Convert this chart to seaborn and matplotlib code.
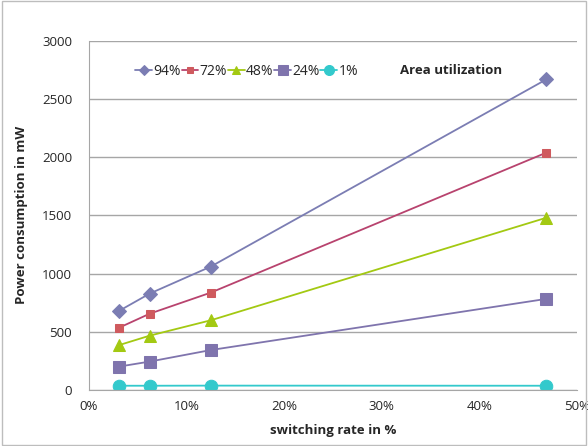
import numpy as np
import pandas as pd
import matplotlib
matplotlib.use("Agg")
import matplotlib.pyplot as plt
import seaborn as sns

# switching rate in % and power in mW per area utilization
rates = [3.125, 6.25, 12.5, 46.875]
labels = ["94%", "72%", "48%", "24%", "1%"]
p94 = [680, 828, 1060, 2670]
p72 = [535, 655, 836, 2040]
p48 = [385, 466, 598, 1480]
p24 = [200, 243, 342, 782]
p01 = [35, 35, 36, 35]

df = pd.DataFrame({
    "rate": rates * 5,
    "power": p94 + p72 + p48 + p24 + p01,
    "util": [l for l in labels for _ in rates],
})

line_cols = ["#7b7db3", "#b8436e", "#a3c912", "#7f74ad", "#33c9cc"]
mark_cols = ["#7b7db3", "#cf5a5e", "#a3c912", "#7f74ad", "#33c9cc"]
marks = ["D", "s", "^", "s", "o"]
msizes = [7, 6, 8, 9, 9]

sns.set_style("white")
plt.rcParams["font.family"] = ["Open Sans", "DejaVu Sans"]

fig = plt.figure(figsize=(5.88, 4.46), dpi=100)
ax = fig.add_axes([0.151, 0.126, 0.830, 0.782])

for i, lab in enumerate(labels):
    sub = df[df["util"] == lab]
    sns.lineplot(data=sub, x="rate", y="power", ax=ax, color=line_cols[i],
                 marker=marks[i], markersize=msizes[i], markerfacecolor=mark_cols[i],
                 markeredgecolor=mark_cols[i], linewidth=1.3, label=lab)

ax.set_xlim(0, 50)
ax.set_ylim(0, 3000)
ax.set_xticks(np.arange(0, 51, 10))
ax.set_xticklabels([f"{v}%" for v in range(0, 51, 10)])
ax.set_yticks(np.arange(0, 3001, 500))
ax.yaxis.grid(True, color="#a6a6a6", linewidth=1)
ax.xaxis.grid(False)
ax.set_axisbelow(True)
for s in ["top", "right"]:
    ax.spines[s].set_visible(False)
for s in ["left", "bottom"]:
    ax.spines[s].set_color("#a6a6a6")
ax.tick_params(axis="both", length=4, color="#a6a6a6", labelsize=9.5, pad=3)
ax.tick_params(axis="y", pad=8)

ax.set_xlabel("switching rate in %", fontsize=9.5, fontweight="bold", labelpad=8)
ax.set_ylabel("Power consumption in mW", fontsize=9.5, fontweight="bold", labelpad=10)

leg = ax.legend(loc="upper left", bbox_to_anchor=(0.07, 0.97), ncol=5, frameon=False,
                handlelength=1.2, handletextpad=0.1, columnspacing=0.05,
                fontsize=10, markerscale=0.8)
ax.text(0.637, 0.915, "Area utilization", transform=ax.transAxes, fontsize=9.5,
        fontweight="bold", ha="left", va="center")

fig.patches.append(plt.Rectangle((0.003, 0.003), 0.994, 0.994, transform=fig.transFigure,
                                 fill=False, edgecolor="#bdbdbd", linewidth=1))

fig.savefig("out.png", dpi=100)
